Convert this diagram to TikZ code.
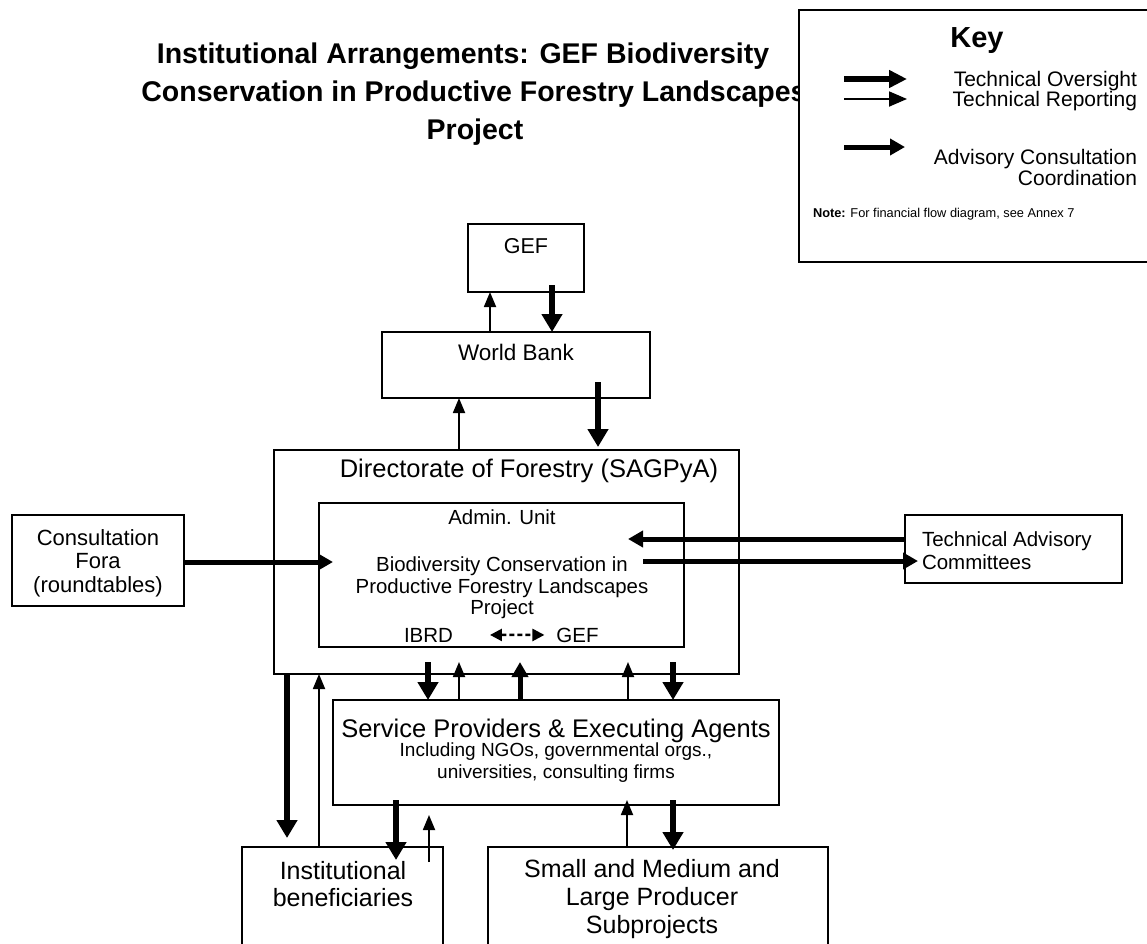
\documentclass[tikz,border=0pt]{standalone}
\usepackage{fontspec}
\setmainfont{Liberation Sans}
\usetikzlibrary{arrows.meta,calc}
\newcommand\fsz[2]{\fontsize{#1}{#2}\selectfont}
\begin{document}
\begin{tikzpicture}[x=1pt,y=-1pt,
  box/.style={draw,line width=2pt,rectangle,inner sep=0pt,outer sep=0pt},
  lbl/.style={inner sep=0pt,outer sep=0pt,align=center},
  ttl/.style={lbl,anchor=base,font=\bfseries\fsz{28.5}{38}},
  oversight/.style={line width=6.5pt,-{Triangle[width=20pt,length=18pt]}},
  keyover/.style={line width=5.5pt,-{Triangle[width=17pt,length=18pt]}},
  reporting/.style={line width=1.8pt,-{Triangle[width=12pt,length=15pt]}},
  advisory/.style={line width=5pt,-{Triangle[width=16pt,length=15pt]}},
  twoway/.style={line width=2.5pt,dash pattern=on 5pt off 3pt,
    {Triangle[width=12pt,length=12pt]}-{Triangle[width=12pt,length=12pt]}},
]
\useasboundingbox (0,0) rectangle (1147,943);
\fill[white] (0,0) rectangle (1147,943);

% helper columns / rows
\foreach \c in {287,319,396,428,429,459,490,520,552,598,627,628,673}{\coordinate (c\c) at (\c,0);}
\foreach \r in {539,561,562}{\coordinate (r\r) at (0,\r);}

% title
\node[ttl] (t1) at (463,63) {Institutional Arrangements: GEF Biodiversity};
\node[ttl] (t2) at (474,101) {Conservation in Productive Forestry Landscapes};
\node[ttl] (t3) at (475,139) {Project};

% key
\node[box,line width=2.5pt,fill=white,minimum width=353pt,minimum height=252pt] (key) at (975.5,136) {};
\node[lbl,anchor=base,font=\bfseries\fsz{29}{33}] (keyt) at (977,47) {Key};
\coordinate (k1a) at (844,79); \coordinate (k1b) at (907,79);
\coordinate (k2a) at (844,99); \coordinate (k2b) at (907,99);
\coordinate (k3a) at (844,147); \coordinate (k3b) at (905,147);
\draw[keyover] (k1a) -- (k1b);
\draw[reporting,-{Triangle[width=15pt,length=18pt]}] (k2a) -- (k2b);
\draw[advisory] (k3a) -- (k3b);
\node[lbl,align=right,anchor=east,font=\fsz{21}{20}] (kt1) at (1137,91.5) {Technical Oversight\\Technical Reporting};
\node[lbl,align=right,anchor=east,font=\fsz{21}{21}] (kt2) at (1137,167) {Advisory Consultation\\Coordination};
\node[lbl,anchor=base west,font=\fsz{12.8}{15}] (note) at (813,217) {\textbf{Note:} For financial flow diagram, see Annex 7};

% boxes
\node[box,minimum width=116pt,minimum height=68pt] (gef) at (526,258) {};
\node[box,minimum width=268pt,minimum height=66pt] (wb) at (516,365) {};
\node[box,line width=2.4pt,minimum width=465pt,minimum height=224pt] (dir) at (506.5,562) {};
\node[box,line width=2.4pt,minimum width=365pt,minimum height=144pt] (adm) at (501.5,575) {};
\node[box,minimum width=172pt,minimum height=91pt] (cf) at (98,560.5) {};
\node[box,minimum width=217pt,minimum height=68pt] (tac) at (1013.5,549) {};
\node[box,minimum width=446pt,minimum height=105pt] (sp) at (556,752.5) {};
\node[box,minimum width=201pt,minimum height=103pt] (ib) at (342.5,898.5) {};
\node[box,minimum width=340pt,minimum height=103pt] (sm) at (658,898.5) {};

% texts
\node[lbl,anchor=base,font=\fsz{21.5}{25}] (gefl) at (526,253) {GEF};
\node[lbl,anchor=base,font=\fsz{22.5}{26}] (wbl) at (516,360) {World Bank};
\node[lbl,anchor=base,font=\fsz{25.5}{29}] (dirl) at (529,477.5) {Directorate of Forestry (SAGPyA)};
\node[lbl,anchor=base,font=\fsz{20.4}{24}] (adml) at (502,524) {Admin. Unit};
\node[lbl,font=\fsz{20.4}{21.5}] (projl) at (502,588) {Biodiversity Conservation in\\Productive Forestry Landscapes\\Project};
\node[lbl,anchor=base,font=\fsz{20.5}{24}] (ibrd) at (428.5,642) {IBRD};
\node[lbl,anchor=base,font=\fsz{20.5}{24}] (gefu) at (577.5,642) {GEF};
\node[lbl,font=\fsz{22}{23.5}] (cfl) at (98,563) {Consultation\\Fora\\(roundtables)};
\node[lbl,align=left,anchor=west,font=\fsz{20.5}{23}] (tacl) at (922,551) {Technical Advisory\\Committees};
\node[lbl,anchor=base,font=\fsz{25.5}{29}] (spl) at (556,737) {Service Providers \& Executing Agents};
\node[lbl,font=\fsz{19}{21.5}] (spd) at (556,762.5) {Including NGOs, governmental orgs.,\\universities, consulting firms};
\node[lbl,font=\fsz{25}{27}] (ibl) at (343,884) {Institutional\\beneficiaries};
\node[lbl,font=\fsz{25}{28}] (sml) at (652,899) {Small and Medium and\\Large Producer\\Subprojects};

% connectors
\draw[reporting] (wb.north -| c490) -- (gef.south -| c490);
\draw[oversight] ($(gef.south -| c552)+(0,-7)$) -- (wb.north -| c552);
\draw[reporting] (dir.north -| c459) -- (wb.south -| c459);
\draw[oversight] ($(wb.south -| c598)+(0,-16)$) -- ($(dir.north -| c598)+(0,-3)$);
\draw[advisory] (cf.east |- r562) -- ($(adm.west |- r562)+(14,0)$);
\draw[advisory] (tac.west |- r539) -- ($(adm.east |- r539)+(-56,0)$);
\draw[advisory] ($(adm.east |- r561)+(-41,0)$) -- ($(tac.west |- r561)+(13,0)$);
\draw[twoway] ($(ibrd.east)+(37,0)$) -- ($(gefu.west)+(-12,0)$);

\draw[oversight] ($(dir.south -| c428)+(0,-12)$) -- (sp.north -| c428);
\draw[reporting] (sp.north -| c459) -- ($(dir.south -| c459)+(0,-12)$);
\draw[advisory] (sp.north -| c520) -- ($(dir.south -| c520)+(0,-12)$);
\draw[reporting] (sp.north -| c628) -- ($(dir.south -| c628)+(0,-12)$);
\draw[oversight] ($(dir.south -| c673)+(0,-12)$) -- (sp.north -| c673);

\draw[oversight] (dir.south -| c287) -- ($(ib.north -| c287)+(0,-9)$);
\draw[reporting] (ib.north -| c319) -- (dir.south -| c319);
\draw[oversight] ($(sp.south -| c396)+(0,-5)$) -- ($(ib.north -| c396)+(0,13)$);
\draw[reporting] ($(ib.north -| c429)+(0,15)$) -- ($(sp.south -| c429)+(0,10)$);
\draw[reporting] (sm.north -| c627) -- ($(sp.south -| c627)+(0,-5)$);
\draw[oversight] ($(sp.south -| c673)+(0,-5)$) -- ($(sm.north -| c673)+(0,3)$);
\end{tikzpicture}
\end{document}
